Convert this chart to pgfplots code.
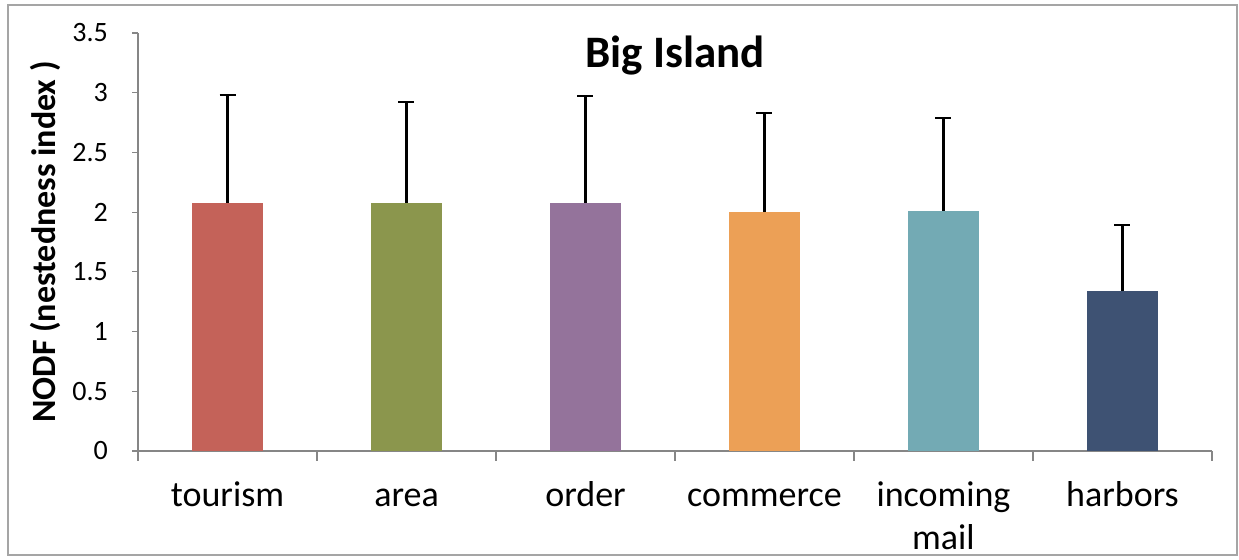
\documentclass[border=0pt]{standalone}
\usepackage{pgfplots}
\pgfplotsset{compat=1.18}
\usepackage{fontspec}
\setmainfont{Carlito}
\definecolor{cA}{RGB}{196,98,89}
\definecolor{cB}{RGB}{139,150,77}
\definecolor{cC}{RGB}{148,115,155}
\definecolor{cD}{RGB}{236,160,86}
\definecolor{cE}{RGB}{115,170,180}
\definecolor{cF}{RGB}{62,82,115}
\definecolor{frame}{RGB}{165,165,165}
\definecolor{axgray}{RGB}{134,134,134}
\begin{document}
\begin{tikzpicture}
\path[use as bounding box] (0pt,0pt) rectangle (619.5pt,-280pt);
\draw[frame, line width=1pt] (4pt,-2.5pt) rectangle (618.5pt,-277.5pt);
\begin{axis}[
  at={(69pt,-225.5pt)}, anchor=south west,
  scale only axis, width=537pt, height=209pt,
  xmin=-0.5, xmax=5.5, ymin=0, ymax=3.5,
  axis x line*=bottom, axis y line*=left,
  axis line style={axgray, line width=0.6pt},
  ytick={0,0.5,...,3.5},
  xtick={0,1,2,3,4,5},
  xticklabels={\strut tourism, \strut area, \strut order, \strut commerce, \strut incoming\\\strut mail, \strut harbors},
  major x tick style={draw=none},
  minor xtick={-0.5,0.5,1.5,2.5,3.5,4.5,5.5},
  minor x tick style={axgray, line width=0.6pt},
  minor tick length=5pt,
  major tick length=3pt,
  tick align=outside,
  ytick style={axgray, line width=0.6pt},
  /pgf/number format/assume math mode=true,
  yticklabel style={font=\fontsize{14}{16}\selectfont, text=black, xshift=-8.5pt},
  xticklabel style={font=\fontsize{18}{21.5}\selectfont, text=black, align=center, anchor=north, yshift=-6pt},
  title={\textbf{Big Island}},
  title style={font=\fontsize{22.5}{24}\selectfont, at={(axis description cs:0.5,1)}, anchor=center, yshift=-17.5pt},
  ylabel={\textbf{NODF (nestedness index )}},
  ylabel style={font=\fontsize{17}{19}\selectfont, at={(axis description cs:0,0.5)}, anchor=center, rotate=0, yshift=46.5pt},
  ybar, bar width=35.5pt, bar shift=0pt,
  error bars/y dir=plus, error bars/y explicit,
  error bars/error bar style={black, line width=1.2pt},
  error bars/error mark options={rotate=90, black, mark size=4pt, line width=1.2pt},
  clip=false,
]
\addplot[fill=cA, draw=none] coordinates {(0,2.08) +- (0,0.90)};
\addplot[fill=cB, draw=none] coordinates {(1,2.08) +- (0,0.84)};
\addplot[fill=cC, draw=none] coordinates {(2,2.08) +- (0,0.89)};
\addplot[fill=cD, draw=none] coordinates {(3,2.00) +- (0,0.83)};
\addplot[fill=cE, draw=none] coordinates {(4,2.01) +- (0,0.78)};
\addplot[fill=cF, draw=none] coordinates {(5,1.34) +- (0,0.55)};
\end{axis}
\end{tikzpicture}
\end{document}
